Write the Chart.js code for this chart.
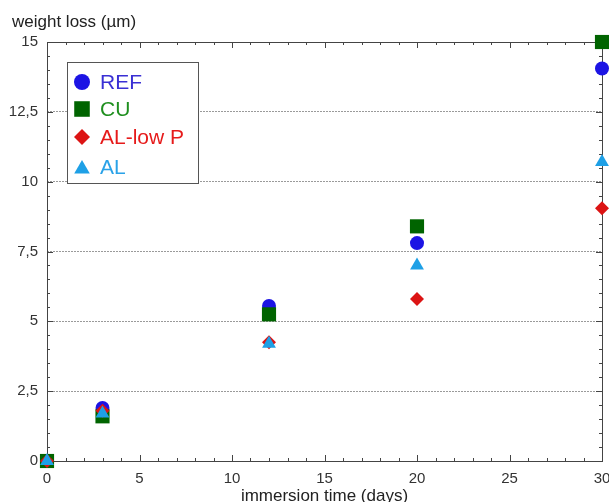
<!DOCTYPE html>
<html>
<head>
<meta charset="utf-8">
<script src="https://cdn.jsdelivr.net/npm/chart.js@4/dist/chart.umd.min.js"></script>
<style>
    html, body { margin: 0; padding: 0; background: #fff; overflow: hidden; }
    #box { position: relative; width: 612px; height: 502px; }
</style>
</head>
<body>
<div id="box"><canvas id="perdaPeso"></canvas></div>
<script>
    // dias de imersao
    var dias = [0, 3, 12, 20, 30];

    // perda de peso (µm) por amostra
    var ref = [0, 1.9, 5.55, 7.8, 14.05];
    var cu = [0, 1.6, 5.25, 8.4, 15];
    var alLowP = [0, 1.8, 4.25, 5.8, 9.05];
    var al = [0, 1.7, 4.2, 7.0, 10.7];

    var nomes = ['REF', 'CU', 'AL-low P', 'AL'];
    var yTicks = [0, 2.5, 5, 7.5, 10, 12.5, 15];
    var xTicks = [0, 5, 10, 15, 20, 25, 30];

    function pontos(valores) {
        return dias.map(function (d, i) { return { x: d, y: valores[i] }; });
    }

    // cor do texto da legenda de cada serie
    var corTexto = ['#3a30d4', '#1f8f1f', '#e61a1a', '#2aa2e8'];

    // caixa de legenda dentro do grafico
    var legendaBox = {
        id: 'legendaBox',
        afterDraw: function (chart) {
            var ctx = chart.ctx;
            ctx.save();
            ctx.fillStyle = '#fff';
            ctx.fillRect(67.5, 62.5, 131, 121);
            ctx.strokeStyle = '#555';
            ctx.lineWidth = 1;
            ctx.strokeRect(67.5, 62.5, 131, 121);
            ctx.font = '21px "Liberation Sans", Arial, sans-serif';
            ctx.textBaseline = 'middle';
            var ys = [82, 109, 137, 167];
            chart.data.datasets.forEach(function (ds, i) {
                ctx.fillStyle = ds.backgroundColor;
                Chart.helpers.drawPoint(ctx, {
                    pointStyle: ds.pointStyle,
                    radius: ds.pointRadius + 1,
                    borderWidth: 0
                }, 82, ys[i] + (ds.pointStyle === 'triangle' ? 2 : 0));
                ctx.fillStyle = corTexto[i];
                ctx.fillText(ds.label, 100, ys[i] + 1);
            });
            ctx.restore();
        }
    };

    // moldura com marcas pra dentro (maiores e menores)
    var moldura = {
        id: 'moldura',
        beforeDatasetsDraw: function (chart) {
            var ctx = chart.ctx;
            var a = chart.chartArea;
            var sx = chart.scales.x, sy = chart.scales.y;
            ctx.save();
            ctx.strokeStyle = '#444';
            ctx.lineWidth = 1;
            ctx.strokeRect(Math.round(a.left) + 0.5, Math.round(a.top) + 0.5,
                Math.round(a.right - a.left), Math.round(a.bottom - a.top));
            ctx.beginPath();
            for (var d = 0; d <= 30; d++) {
                var px = Math.round(sx.getPixelForValue(d)) + 0.5;
                var t = d % 5 === 0 ? 6 : 3;
                ctx.moveTo(px, a.bottom); ctx.lineTo(px, a.bottom - t);
                ctx.moveTo(px, a.top); ctx.lineTo(px, a.top + t);
            }
            for (var v = 0; v <= 15; v += 0.5) {
                var py = Math.round(sy.getPixelForValue(v)) + 0.5;
                var tt = v % 2.5 === 0 ? 6 : 3;
                ctx.moveTo(a.left, py); ctx.lineTo(a.left + tt, py);
                ctx.moveTo(a.right, py); ctx.lineTo(a.right - tt, py);
            }
            ctx.stroke();

            // titulo do eixo y
            ctx.fillStyle = '#222';
            ctx.font = '17px "Liberation Sans", Arial, sans-serif';
            ctx.textBaseline = 'middle';
            ctx.fillText('weight loss (µm)', 12, 22);
            ctx.restore();
        }
    };

    var ctx = document.getElementById('perdaPeso').getContext('2d');
    var chart = new Chart(ctx, {
        type: 'scatter',
        data: {
            // order maior desenha primeiro: AL fica por cima
            datasets: [{
                label: nomes[0],
                data: pontos(ref),
                order: 4,
                pointStyle: 'circle',
                pointRadius: 7,
                backgroundColor: '#1c14e4',
                borderWidth: 0,
                clip: false
            }, {
                label: nomes[1],
                data: pontos(cu),
                order: 3,
                pointStyle: 'rect',
                pointRadius: 10,
                backgroundColor: '#006400',
                borderWidth: 0,
                clip: false
            }, {
                label: nomes[2],
                data: pontos(alLowP),
                order: 2,
                pointStyle: 'rectRot',
                pointRadius: 7,
                backgroundColor: '#dc1414',
                borderWidth: 0,
                clip: false
            }, {
                label: nomes[3],
                data: pontos(al),
                order: 1,
                pointStyle: 'triangle',
                pointRadius: 8,
                backgroundColor: '#1ea0e6',
                borderWidth: 0,
                clip: false
            }]
        },
        options: {
            responsive: true,
            maintainAspectRatio: false,
            animation: false,
            layout: { padding: { top: 42, right: 4, left: 0, bottom: 0 } },
            plugins: {
                legend: { display: false },
                tooltip: { enabled: false }
            },
            scales: {
                x: {
                    type: 'linear',
                    min: 0,
                    max: 30,
                    afterBuildTicks: function (s) { s.ticks = xTicks.map(function (v) { return { value: v }; }); },
                    afterFit: function (s) {
                        s.height = 41;
                        s.paddingLeft = 0;
                        s.paddingRight = 0;
                    },
                    grid: { display: false, drawTicks: false },
                    border: { display: false },
                    ticks: {
                        padding: 9,
                        color: '#333',
                        font: { family: '"Liberation Sans", Arial, sans-serif', size: 15 }
                    },
                    title: {
                        display: true,
                        text: 'immersion time (days)',
                        color: '#222',
                        padding: { top: 0, bottom: -5 },
                        font: { family: '"Liberation Sans", Arial, sans-serif', size: 17 }
                    }
                },
                y: {
                    min: 0,
                    max: 15,
                    afterBuildTicks: function (s) { s.ticks = yTicks.map(function (v) { return { value: v }; }); },
                    afterFit: function (s) {
                        s.width = 47;
                        s.paddingTop = 0;
                        s.paddingBottom = 0;
                    },
                    grid: {
                        color: '#9a9a9a',
                        drawTicks: false
                    },
                    border: { display: false, dash: [2, 1] },
                    ticks: {
                        padding: 9,
                        color: '#333',
                        font: { family: '"Liberation Sans", Arial, sans-serif', size: 15 },
                        callback: function (v) { return String(v).replace('.', ','); }
                    }
                }
            }
        },
        plugins: [moldura, legendaBox]
    });
</script>
</body>
</html>
